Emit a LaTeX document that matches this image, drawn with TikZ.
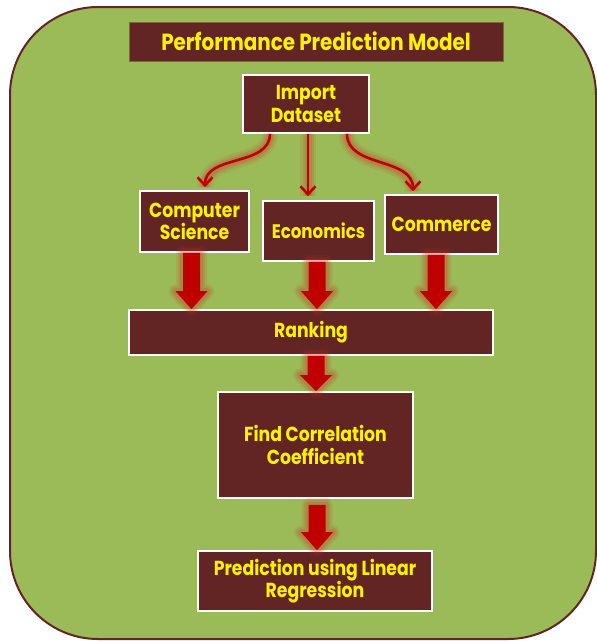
\documentclass[tikz,border=0pt]{standalone}
\usepackage{fontspec}
\setmainfont{Poppins}[FakeStretch=0.85]
\usetikzlibrary{arrows.meta,calc}
\definecolor{maroon}{RGB}{99,37,35}
\definecolor{leaf}{RGB}{155,187,89}
\definecolor{arrowred}{RGB}{192,0,0}
\definecolor{halo}{RGB}{205,45,30}
\definecolor{titleedge}{RGB}{125,105,60}

% Thick block arrow from #1 straight down to #2, head length #3
\newcommand\blockarrow[3]{%
  \path (#1) coordinate (ba-s) (#2) coordinate (ba-e);
  \foreach \w/\o in {14/0.10,10/0.14,6/0.18}{%
    \draw[halo, line width=\w pt, opacity=\o, line join=round]
      ($(ba-s)+(-8.5,0)$) -- ($(ba-e)+(-8.5,-#3)$) -- ($(ba-e)+(-16,-#3)$) -- (ba-e)
      -- ($(ba-e)+(16,-#3)$) -- ($(ba-e)+(8.5,-#3)$) -- ($(ba-s)+(8.5,0)$) -- cycle;}
  \fill[arrowred]
      ($(ba-s)+(-8.5,0)$) -- ($(ba-e)+(-8.5,-#3)$) -- ($(ba-e)+(-16,-#3)$) -- (ba-e)
      -- ($(ba-e)+(16,-#3)$) -- ($(ba-e)+(8.5,-#3)$) -- ($(ba-s)+(8.5,0)$) -- cycle;
}

\begin{document}
\begin{tikzpicture}[x=1pt,y=-1pt,
  box/.style={fill=maroon, draw=white, line width=1.6pt, text=yellow, align=center,
    inner sep=0pt, font=\bfseries\fontsize{20.3}{22.5}\selectfont},
  halowide/.style={preaction={draw=halo, line width=16pt, opacity=0.10},
    preaction={draw=halo, line width=11pt, opacity=0.14},
    preaction={draw=halo, line width=7pt, opacity=0.18}},
  thinarrow/.style={draw=arrowred, line width=2.6pt,
    -{Straight Barb[length=8pt,width=15pt,line width=2.6pt]}},
]
\useasboundingbox (0,0) rectangle (597,641);

% panel
\draw[fill=leaf, draw=maroon, line width=2pt, rounded corners=88pt] (10,7) rectangle (596,639);

% boxes
\node[box, draw=titleedge, line width=0.8pt, minimum width=374pt, minimum height=39pt,
  font=\bfseries\fontsize{23.4}{25}\selectfont] (title) at (316,41.5) {Performance Prediction Model};
\node[box, minimum width=126pt, minimum height=58pt] (imp)  at (306,104)   {Import\\Dataset};
\node[box, minimum width=109pt, minimum height=61pt] (cs)   at (194.5,221.5) {Computer\\Science};
\node[box, minimum width=111pt, minimum height=60pt, font=\bfseries\fontsize{19.6}{22.5}\selectfont] (eco)  at (318.5,231) {Economics};
\node[box, minimum width=113pt, minimum height=59pt] (com)  at (441.5,224.5) {Commerce};
\node[box, minimum width=364pt, minimum height=45pt] (rank) at (311,332.5) {Ranking};
\node[box, minimum width=195pt, minimum height=106pt] (corr) at (315.5,445) {Find Correlation\\Coefficient};
\node[box, minimum width=234pt, minimum height=60pt] (pred) at (315,581) {Prediction using Linear\\Regression};

% thin curved arrows out of the dataset box
\coordinate (l1) at ([xshift=-36pt]imp.south);
\coordinate (l2) at ([xshift=10.5pt,yshift=3pt]cs.north);
\coordinate (m1) at ([xshift=2pt]imp.south);
\coordinate (m2) at ([xshift=-10.5pt,yshift=4pt]eco.north);
\coordinate (r1) at ([xshift=41pt]imp.south);
\coordinate (r2) at ([xshift=-28.5pt,yshift=3pt]com.north);
\path[halowide] (l1) to[out=-90,in=90] (l2);
\path[halowide] (m1) -- (m2);
\path[halowide] (r1) to[out=-90,in=90] (r2);
\draw[thinarrow] (l1) to[out=-90,in=90] (l2);
\draw[thinarrow] (m1) -- (m2);
\draw[thinarrow] (r1) to[out=-90,in=90] (r2);

% block arrows
\coordinate (a1s) at ([xshift=-3pt]cs.south);   \coordinate (a1e) at (a1s |- rank.north);
\coordinate (a2s) at ([xshift=-1.5pt]eco.south); \coordinate (a2e) at (a2s |- rank.north);
\coordinate (a3s) at ([xshift=-5.5pt]com.south); \coordinate (a3e) at (a3s |- rank.north);
\coordinate (a4s) at ([xshift=5pt]rank.south);   \coordinate (a4e) at (a4s |- corr.north);
\coordinate (a5s) at ([xshift=1.5pt,yshift=-6pt]corr.south); \coordinate (a5e) at (a5s |- pred.north);
\blockarrow{a1s}{a1e}{18}
\blockarrow{a2s}{a2e}{18}
\blockarrow{a3s}{a3e}{18}
\blockarrow{a4s}{a4e}{16}
\blockarrow{a5s}{a5e}{18}
\end{tikzpicture}
\end{document}
